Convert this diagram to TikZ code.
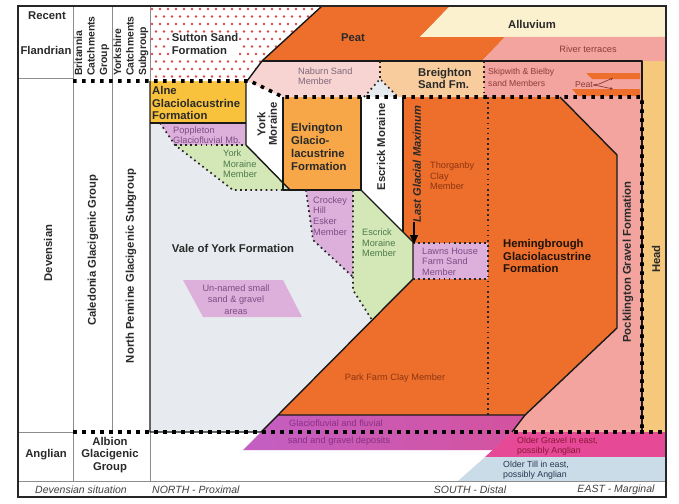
\documentclass[tikz,border=0pt]{standalone}
\usepackage{fontspec}
\setmainfont{Liberation Sans}
\usetikzlibrary{arrows.meta}

% unit colours
\definecolor{clay}{HTML}{EE6E2B}
\definecolor{elv}{HTML}{F7A747}
\definecolor{alne}{HTML}{F8C23C}
\definecolor{breigh}{HTML}{F8CC9C}
\definecolor{naburn}{HTML}{F7D4D2}
\definecolor{salmon}{HTML}{F3A49F}
\definecolor{headc}{HTML}{F5C87B}
\definecolor{cream}{HTML}{FCF1CF}
\definecolor{vale}{HTML}{E7EBEF}
\definecolor{purp}{HTML}{DDB0DC}
\definecolor{moss}{HTML}{D3E7B7}
\definecolor{magA}{HTML}{C35FC2}
\definecolor{magB}{HTML}{D4529F}
\definecolor{oldgravel}{HTML}{E64A97}
\definecolor{oldtill}{HTML}{CADCE8}
\definecolor{dotred}{HTML}{D94848}
% text colours
\definecolor{txt}{HTML}{2A2A2A}
\definecolor{claytxt}{HTML}{8C3512}
\definecolor{purptxt}{HTML}{7E4A85}
\definecolor{mosstxt}{HTML}{4E7A4A}
\definecolor{salmtxt}{HTML}{8F3A3A}
\definecolor{nabtxt}{HTML}{7F6678}
\definecolor{magtxt}{HTML}{8B2F86}
\definecolor{gravtxt}{HTML}{8B1538}
\definecolor{tilltxt}{HTML}{2A3550}

\begin{document}
\begin{tikzpicture}[x=1pt,y=-1pt,
  frame/.style={draw=black!85,line width=1.2pt},
  rule/.style={draw=black!45,line width=0.9pt},
  blk/.style={draw=black!90,line width=1.4pt,line join=round},
  bigDots/.style={draw=black,line width=3.6pt,dash pattern=on 3.6pt off 5.4pt},
  fineDots/.style={draw=black!85,line width=1.7pt,dash pattern=on 1.7pt off 3.4pt},
  fm/.style={font=\fontsize{11.3}{12.8}\selectfont\bfseries,text=txt,inner sep=0pt,align=left},
  mb/.style={font=\fontsize{9.2}{10.7}\selectfont,inner sep=0pt,align=left},
  sm/.style={font=\fontsize{8.6}{11.2}\selectfont,inner sep=0pt,align=left},
  foot/.style={font=\fontsize{10.5}{12}\selectfont\itshape,text=black!75,inner sep=0pt},
  arr/.style={draw=black,line width=1.4pt,-{Triangle[length=9pt,width=8pt]}}]
\useasboundingbox (0,0) rectangle (679,503);
\fill[white] (0,0) rectangle (679,503);

% ---- Devensian block ----
\fill[vale] (150,81) rectangle (642,432);
\fill[salmon] (560,97) -- (642,97) -- (642,432) -- (512,432) -- (525,415) -- (617,328) -- (617,155) -- cycle;
\fill[clay] (403,97) -- (560,97) -- (617,155) -- (617,328) -- (525,415) -- (278,415) -- (413,279) -- (413,242) -- (403,232) -- cycle;
\fill[white] (361,97) -- (403,97) -- (403,232) -- (361,190) -- cycle;
\fill[white] (246,81) -- (283,97) -- (283,190) -- (290,190) -- (246,145) -- cycle;
\fill[elv] (283,97) rectangle (361,190);
\fill[alne] (150,81) rectangle (246,123);
\fill[purp] (160,123) -- (246,123) -- (246,145) -- (175,145) -- cycle;
\fill[moss] (175,145) -- (246,145) -- (290,190) -- (233,190) -- cycle;
\fill[purp] (306,190) -- (353,190) -- (353,277) -- (313,240) -- cycle;
\fill[moss] (353,190) -- (361,190) -- (413,242) -- (413,279) -- (372,320) -- (353,290) -- cycle;
\fill[purp] (413,243) rectangle (488,279);
\fill[purp] (183,280) -- (283,280) -- (302,317) -- (203,317) -- cycle;

% ---- Flandrian block ----
\fill[white] (150,6) -- (322,6) -- (262,61) -- (247,81) -- (150,81) -- cycle;
\begin{scope}
  \clip (150,6) -- (322,6) -- (262,61) -- (247,81) -- (150,81) -- cycle;
  \foreach \j in {0,...,9}
    \foreach \i in {0,...,22}
      \fill[dotred] ({152+8*\i+4*mod(\j,2)},{9+7.5*\j}) circle (1.3pt);
\end{scope}
\fill[clay] (322,6) -- (450,6) -- (420,37) -- (505,37) -- (482,61) -- (262,61) -- cycle;
\fill[cream] (450,6) -- (666,6) -- (666,37) -- (420,37) -- cycle;
\fill[salmon] (505,37) -- (666,37) -- (666,61) -- (482,61) -- cycle;
\fill[naburn] (262,61) -- (380,61) -- (380,79) -- (364,97) -- (283,97) -- (247,81) -- cycle;
\fill[breigh] (380,61) -- (484,61) -- (484,97) -- (398,97) -- (380,79) -- cycle;
\fill[salmon] (484,61) rectangle (642,97);
\fill[headc] (642,61) rectangle (666,432);
% peat layers within the sand members
\fill[clay] (586,73) -- (640,73) -- (640,79) -- (592,79) -- cycle;
\fill[clay] (572,89) -- (640,89) -- (640,96) -- (578,96) -- cycle;

% ---- Anglian block ----
\shade[left color=magA,right color=magB] (278,415) -- (525,415) -- (512,432) -- (493,450) -- (243,450) -- cycle;
\fill[oldgravel] (512,432) -- (666,432) -- (666,457) -- (485,457) -- cycle;
\fill[oldtill] (485,457) -- (666,457) -- (666,481) -- (458,481) -- cycle;

% ---- table rules ----
\draw[rule] (18,78) -- (73,78);
\draw[rule] (73,6) -- (73,481);
\draw[rule] (112,6) -- (112,432);
\draw[rule] (150,6) -- (150,81);
\draw[rule] (150,432) -- (150,481);
\draw[rule] (18,432) -- (73,432);
\draw[rule] (18,481) -- (666,481);

% ---- unit boundaries ----
\draw[blk] (150,81) -- (150,432) -- (261,432) -- (278,415);
\draw[blk] (150,123) -- (246,123);
\draw[blk] (246,81) -- (246,145) -- (290,190);
\draw[blk] (283,97) -- (283,190) -- (361,190) -- (361,97);
\draw[blk] (361,190) -- (413,242) -- (413,279) -- (278,415) -- (525,415) -- (617,328) -- (617,155) -- (560,97);
\draw[blk] (525,415) -- (512,432);
\draw[blk] (403,97) -- (403,232);
\draw[blk] (322,6) -- (262,61) -- (247,81);
\draw[blk] (262,61) -- (642,61) -- (642,432);

\draw[fineDots] (160,123) -- (175,145) -- (233,190) -- (290,190);
\draw[fineDots] (175,145) -- (246,145);
\draw[fineDots] (306,190) -- (313,240) -- (353,277);
\draw[fineDots] (353,190) -- (353,290) -- (372,320);
\draw[fineDots] (413,243) -- (488,243);
\draw[fineDots] (413,279) -- (488,279);
\draw[fineDots] (488,97) -- (488,415);
\draw[fineDots] (380,61) -- (380,79);
\draw[fineDots] (364,97) -- (380,79) -- (398,97);
\draw[fineDots] (484,61) -- (484,97);

\draw[bigDots] (73,81) -- (250,81) -- (283,97) -- (642,97) -- (642,432);
\draw[bigDots] (73,432) -- (666,432);

\draw[frame] (18,6) rectangle (666,497);

% ---- stratigraphic columns ----
\node[fm] (recent) at (47,16) {Recent};
\node[fm] (flandrian) at (46,50) {Flandrian};
\node[fm,font=\fontsize{10.4}{12.5}\selectfont\bfseries,rotate=90,anchor=west] (britannia) at (92,76) {Britannia\\Catchments\\Group};
\node[fm,font=\fontsize{10.4}{12.5}\selectfont\bfseries,rotate=90,anchor=west] (yorkshire) at (131,76) {Yorkshire\\Catchments\\Subgroup};
\node[fm,rotate=90] (devensian) at (48,253) {Devensian};
\node[fm,rotate=90] (caledonia) at (93,250) {Caledonia Glacigenic Group};
\node[fm,rotate=90] (pennine) at (131,266) {North Pennine Glacigenic Subgroup};
\node[fm] (anglian) at (46,455) {Anglian};
\node[fm,align=center] (albion) at (110,455) {Albion\\Glacigenic\\Group};

\node[foot] (devsit) at (81,490) {Devensian situation};
\node[foot,anchor=west] (north) at (152,490) {NORTH - Proximal};
\node[foot] (south) at (470,490) {SOUTH - Distal};
\node[foot] (east) at (616,490) {EAST - Marginal};

% ---- Flandrian labels ----
\node[fm,anchor=west,fill=white,inner sep=0.6pt] (sutton) at (171,44) {Sutton Sand\\Formation};
\node[fm] (peat) at (353,38) {Peat};
\node[fm] (alluvium) at (532,24) {Alluvium};
\node[mb,text=salmtxt] (terraces) at (588,49) {River terraces};
\node[mb,text=nabtxt,font=\fontsize{9.2}{10}\selectfont,anchor=west] (naburn) at (298,76) {Naburn Sand\\Member};
\node[fm,anchor=west,font=\fontsize{11.3}{11.4}\selectfont\bfseries] (breighton) at (418,78.5) {Breighton\\Sand Fm.};
\node[sm,text=salmtxt,anchor=west] (skipwith) at (488,77.5) {Skipwith \& Bielby\\sand Members};
\node[sm,text=salmtxt] (peatlbl) at (584,85) {Peat};
\coordinate (peatup) at (613,78);
\coordinate (peatdown) at (613,89);
\draw[salmtxt,line width=0.7pt,-{Stealth[length=3pt,width=3pt]}] (peatlbl.east) -- ++(6,-1) -- (peatup);
\draw[salmtxt,line width=0.7pt,-{Stealth[length=3pt,width=3pt]}] (peatlbl.east) -- ++(6,1) -- (peatdown);

% ---- Devensian labels ----
\node[fm,anchor=west] (alnelbl) at (152,103) {Alne\\Glaciolacustrine\\Formation};
\node[mb,text=purptxt,font=\fontsize{9.2}{10}\selectfont,anchor=west] (poppleton) at (173,135) {Poppleton\\Glaciofluvial Mb.};
\node[mb,text=mosstxt,anchor=west] (yorkmember) at (223,164) {York\\Moraine\\Member};
\node[fm,rotate=90,align=center,font=\fontsize{11.3}{11.5}\selectfont\bfseries] (yorkmoraine) at (267,124) {York\\Moraine};
\node[fm,anchor=west,font=\fontsize{11.3}{13}\selectfont\bfseries] (elvington) at (291,147) {Elvington\\Glacio-\\lacustrine\\Formation};
\node[fm,rotate=90] (escrick) at (381,147) {Escrick Moraine};
\node[fm,rotate=90,font=\fontsize{11.1}{12}\selectfont\bfseries\itshape] (lgm) at (417,164) {Last Glacial Maximum};
\coordinate (lgmtip) at (414,244);
\draw[arr] (lgm.west -| lgmtip) -- (lgmtip);
\node[mb,text=claytxt,anchor=west] (thorganby) at (430,176) {Thorganby\\Clay\\Member};
\node[mb,text=purptxt,anchor=west] (crockey) at (313,216) {Crockey\\Hill\\Esker\\Member};
\node[mb,text=mosstxt,anchor=west] (escrickmember) at (362,243) {Escrick\\Moraine\\Member};
\node[mb,text=purptxt,font=\fontsize{9.2}{10.5}\selectfont,anchor=west] (lawns) at (422,261.5) {Lawns House\\Farm Sand\\Member};
\node[fm,anchor=west,text=black!85!brown,font=\fontsize{11.3}{12.5}\selectfont\bfseries] (hemingbrough) at (503,256) {Hemingbrough\\Glaciolacustrine\\Formation};
\node[fm,rotate=90] (pocklington) at (628,262) {Pocklington Gravel Formation};
\node[fm,rotate=90] (head) at (656,259) {Head};
\node[fm] (valeyork) at (233,248) {Vale of York Formation};
\node[mb,text=purptxt,align=center,font=\fontsize{9.2}{11.5}\selectfont] (unnamed) at (236,299.5) {Un-named small\\sand \& gravel\\areas};
\node[mb,text=claytxt] (parkfarm) at (395,378) {Park Farm Clay Member};

% ---- Anglian labels ----
\node[mb,text=magtxt] (glacio1) at (336,423) {Glaciofluvial and fluvial};
\node[mb,text=magtxt] (glacio2) at (339,441) {sand and gravel deposits};
\node[sm,text=gravtxt,font=\fontsize{8.8}{10}\selectfont,anchor=west] (oldergravel) at (517,446.5) {Older Gravel in east,\\possibly Anglian};
\node[sm,text=tilltxt,font=\fontsize{8.8}{10}\selectfont,anchor=west] (oldertill) at (503,470) {Older Till in east,\\possibly Anglian};
\end{tikzpicture}
\end{document}
